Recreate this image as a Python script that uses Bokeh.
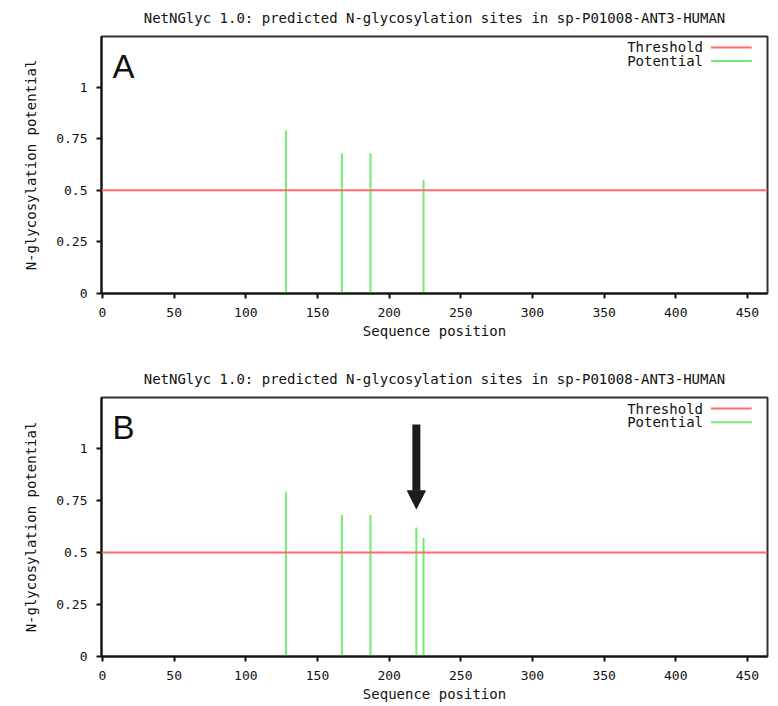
from bokeh.plotting import figure
from bokeh.models import Range1d, Span, Label, Arrow, NormalHead, FixedTicker, Column
from bokeh.embed import file_html
from bokeh.resources import INLINE

# ---- data ----
title_text = "NetNGlyc 1.0: predicted N-glycosylation sites in sp-P01008-ANT3-HUMAN"
positions_a = [128, 167, 187, 224]
potential_a = [0.79, 0.68, 0.68, 0.55]
positions_b = [128, 167, 187, 219, 224]
potential_b = [0.79, 0.68, 0.68, 0.62, 0.57]
threshold = 0.5
x_ticks = [0, 50, 100, 150, 200, 250, 300, 350, 400, 450]
y_ticks = [0, 0.25, 0.5, 0.75, 1]
y_tick_labels = ["0", "0.25", "0.5", "0.75", "1"]
legend_names = ["Threshold", "Potential"]
arrow_site = 219

MONO = "DejaVu Sans Mono"
RED = "#ff6b6b"
GREEN = "#74ea74"


def make_panel(letter, positions, values, height, top, bottom, arrow=None):
    p = figure(width=770, height=height, output_backend="svg", toolbar_location=None,
               x_range=Range1d(-0.7, 464), y_range=Range1d(0, 1.245),
               min_border_left=101, min_border_right=3,
               min_border_top=top, min_border_bottom=bottom,
               title=title_text)
    p.title.align = "center"
    p.title.vertical_align = "top"
    p.title.text_font = MONO
    p.title.text_font_size = "14px"
    p.title.text_font_style = "normal"
    p.title.text_color = "#111111"
    p.title.standoff = 18
    p.xgrid.visible = False
    p.ygrid.visible = False
    p.outline_line_color = "#333333"
    p.outline_line_width = 2
    p.background_fill_color = "white"
    p.border_fill_color = "white"

    for ax in (p.xaxis[0], p.yaxis[0]):
        ax.axis_line_color = "#111111"
        ax.axis_line_width = 2
        ax.major_tick_line_color = "#111111"
        ax.major_tick_line_width = 2
        ax.major_tick_out = 5
        ax.major_tick_in = 0
        ax.minor_tick_line_color = None
        ax.major_label_text_font = MONO
        ax.major_label_text_font_size = "13px"
        ax.major_label_text_color = "#111111"
        ax.axis_label_text_font = MONO
        ax.axis_label_text_font_size = "14px"
        ax.axis_label_text_font_style = "normal"
        ax.axis_label_text_color = "#111111"

    p.xaxis.ticker = FixedTicker(ticks=x_ticks)
    p.yaxis.ticker = FixedTicker(ticks=y_ticks)
    p.yaxis.major_label_overrides = {t: s for t, s in zip(y_ticks, y_tick_labels)}
    p.xaxis.axis_label = "Sequence position"
    p.yaxis.axis_label = "N-glycosylation potential"
    p.xaxis.major_label_standoff = 9
    p.xaxis.axis_label_standoff = 3
    p.yaxis.major_label_standoff = 9
    p.yaxis.axis_label_standoff = 14

    p.add_layout(Span(location=threshold, dimension="width", line_color=RED, line_width=2))
    p.segment(x0=positions, y0=[0] * len(positions), x1=positions, y1=values,
              line_color=GREEN, line_width=2)

    # panel letter
    p.add_layout(Label(x=7, y=1.19, text=letter, text_font="Liberation Sans",
                       text_font_size="33px", text_baseline="top", text_color="#111111"))

    # legend (text then line sample)
    for i, (name, col) in enumerate(zip(legend_names, [RED, GREEN])):
        yy = 1.192 - i * 0.066
        p.add_layout(Label(x=419, y=yy, text=name, text_font=MONO, text_font_size="14px",
                           text_align="right", text_baseline="middle", text_color="#111111"))
        p.segment(x0=[424.5], y0=[yy], x1=[453], y1=[yy], line_color=col, line_width=2)

    if arrow is not None:
        p.add_layout(Arrow(end=NormalHead(size=18, fill_color="#1c1c1c", line_color="#1c1c1c"),
                           x_start=arrow, y_start=1.115, x_end=arrow, y_end=0.71,
                           line_width=8, line_color="#1c1c1c"))
    return p


pa = make_panel("A", positions_a, potential_a, 354, 35, 61)
pb = make_panel("B", positions_b, potential_b, 350, 43, 48, arrow=arrow_site)

layout = Column(pa, pb, spacing=0)
open("out.html", "w").write(file_html(layout, INLINE))
